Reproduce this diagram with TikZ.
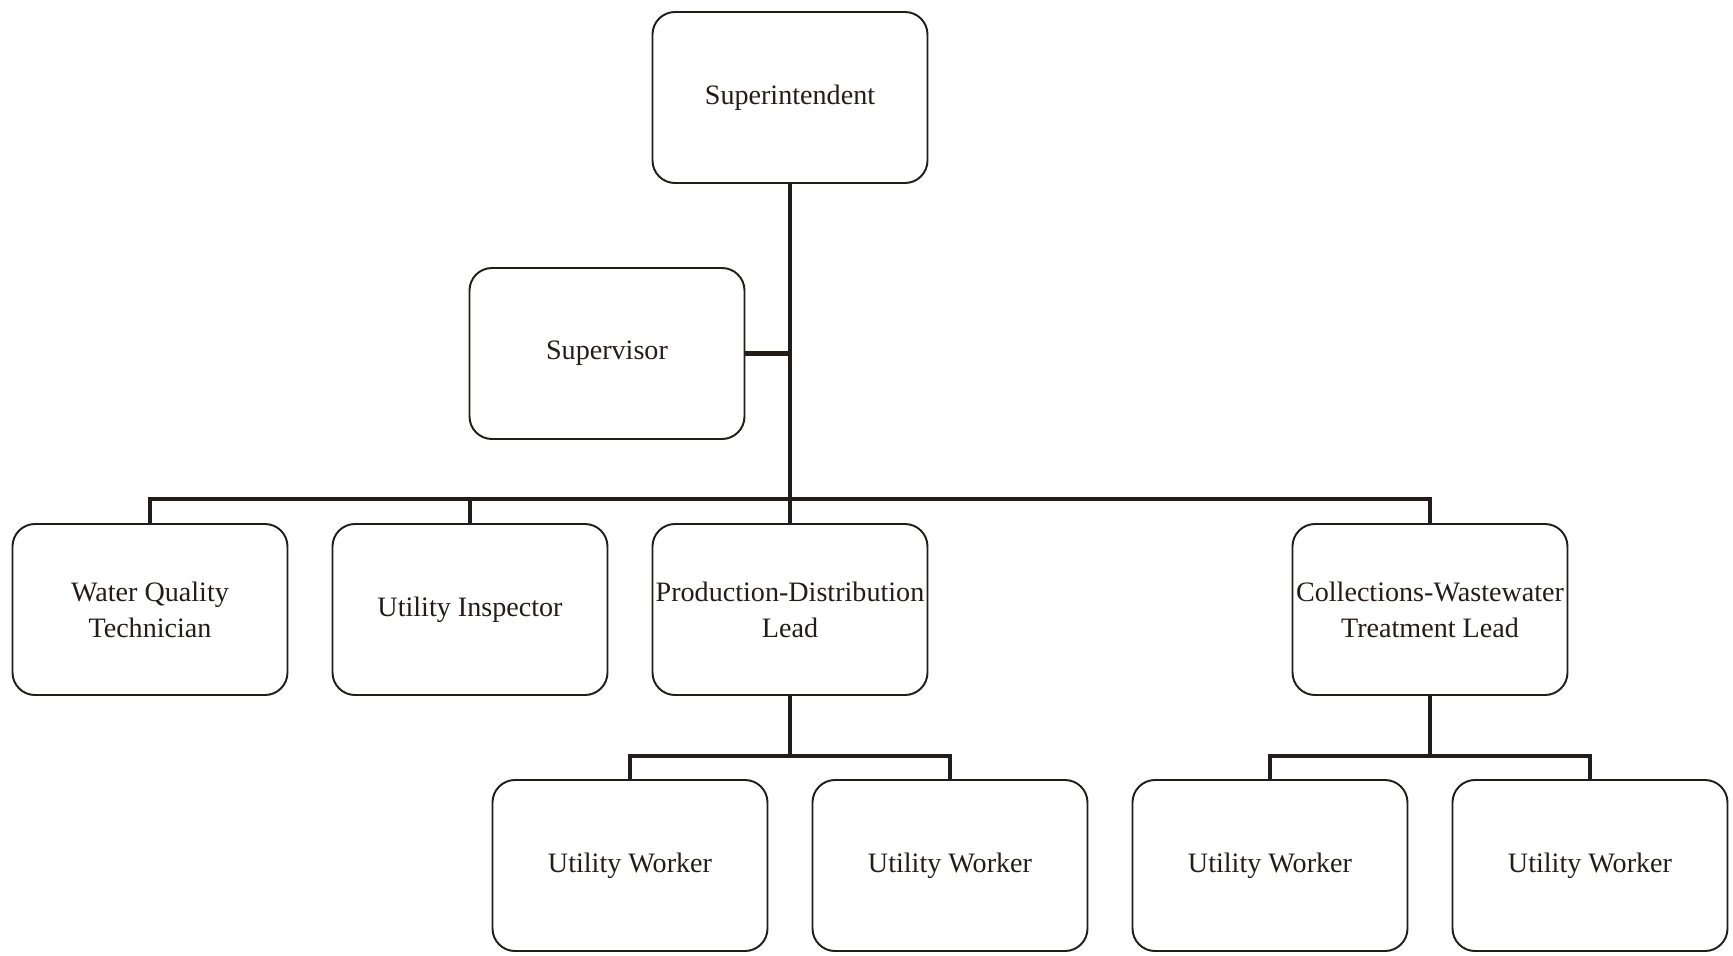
\documentclass[tikz,border=0pt]{standalone}
\usepackage{fontspec}
\setmainfont{Liberation Serif}
\usetikzlibrary{positioning,calc}
\definecolor{ink}{RGB}{35,28,25}

\tikzset{
  post/.style={draw=ink, text=ink, rounded corners=0.45cm, line width=1.1pt,
    minimum width=5.5cm, minimum height=3.42cm, align=center, inner sep=1pt,
    font=\fontsize{16}{20.5}\selectfont},
  link/.style={draw=ink, line width=2.3pt}
}

\begin{document}
\begin{tikzpicture}[node distance=5.12cm and 6.4cm, on grid]
    \useasboundingbox (0,0) rectangle (34.66,-19.1);
    \node[post] (supt) at (15.8,-1.95) {Superintendent};
    \node[post] (superv) [below left=5.12cm and 3.66cm of supt] {Supervisor};
    \node[post] (pdl) [below=10.24cm of supt] {Production-Distribution\\Lead};
    \node[post] (ui) [left=of pdl] {Utility Inspector};
    \node[post] (wqt) [left=of ui] {Water Quality\\Technician};
    \node[post] (cwl) [right=12.8cm of pdl] {Collections-Wastewater\\Treatment Lead};
    \node[post] (uw_1) [below left=5.12cm and 3.2cm of pdl] {Utility Worker};
    \node[post] (uw_2) [right=of uw_1] {Utility Worker};
    \node[post] (uw_3) [right=of uw_2] {Utility Worker};
    \node[post] (uw_4) [right=of uw_3] {Utility Worker};
    % bus lines
    \coordinate (bus) at ($(wqt.north)+(0,0.48)$);
    \coordinate (bus_1) at ($(uw_1.north)+(0,0.46)$);
    \path[link]
        (supt.south) -- (pdl.north)
        (superv.east) -- (superv.east -| supt.south)
        (wqt.north) |- (bus -| cwl.north) -- (cwl.north)
        (ui.north) -- (ui.north |- bus)
        (pdl.south) -- (pdl.south |- bus_1)
        (uw_1.north) |- (bus_1 -| uw_2.north) -- (uw_2.north)
        (cwl.south) -- (cwl.south |- bus_1)
        (uw_3.north) |- (bus_1 -| uw_4.north) -- (uw_4.north);
\end{tikzpicture}
\end{document}
